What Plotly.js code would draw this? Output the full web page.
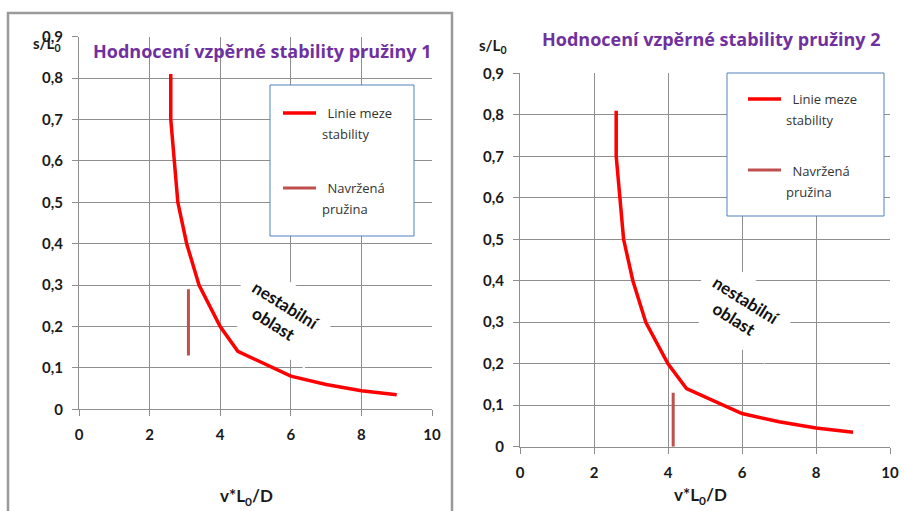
<!DOCTYPE html>
<html>
<head>
<meta charset="utf-8">
<script src="https://cdn.plot.ly/plotly-3.0.1.min.js"></script>
<style>html,body{margin:0;padding:0;background:#fff;}#chart{width:905px;height:511px;}</style>
</head>
<body>
<div id="chart"></div>
<script>
// ---- Data ----
const limitX1 = [2.6, 2.6, 2.8, 3.05, 3.4, 4.0, 4.5, 6.0, 7.0, 8.0, 9.0];
const limitY1 = [0.81, 0.70, 0.50, 0.40, 0.30, 0.20, 0.14, 0.08, 0.06, 0.045, 0.035];
const springX1 = [3.1, 3.1];
const springY1 = [0.29, 0.13];

const limitX2 = [2.6, 2.6, 2.8, 3.05, 3.4, 4.0, 4.5, 6.0, 7.0, 8.0, 9.0];
const limitY2 = [0.81, 0.70, 0.50, 0.40, 0.30, 0.20, 0.14, 0.08, 0.06, 0.045, 0.035];
const springX2 = [4.14, 4.14];
const springY2 = [0.13, 0.0];

const xTickVals = [0, 2, 4, 6, 8, 10];
const xTickText = ['0', '2', '4', '6', '8', '10'];
const yTickVals = [0, 0.1, 0.2, 0.3, 0.4, 0.5, 0.6, 0.7, 0.8, 0.9];
const yTickText = ['0', '0,1', '0,2', '0,3', '0,4', '0,5', '0,6', '0,7', '0,8', '0,9'];

const titles = ['Hodnocení vzpěrné stability pružiny 1', 'Hodnocení vzpěrné stability pružiny 2'];
const legendLine1 = ['\u00A0Linie meze', 'stability'];
const legendLine2 = ['\u00A0Navržená', 'pružina'];
const regionText = 'nestabilní<br>oblast';
const xTitle = 'v*L<sub>0</sub>/D';
const yTitle = 's/L<sub>0</sub>';

// ---- Layout helpers ----
const W = 905, H = 511;
const px = x => x / W;
const py = y => 1 - y / H;
const FONT = 'Lato, "Open Sans", sans-serif';
const OPEN = '"Open Sans", Lato, sans-serif';
const RED = '#FF0000', SPRING = '#C0504D', GRID = '#8E8E8E', PURPLE = '#7030A0';

const traces = [
  {x: limitX1, y: limitY1, xaxis: 'x', yaxis: 'y', mode: 'lines', line: {color: RED, width: 3.5}, showlegend: false},
  {x: springX1, y: springY1, xaxis: 'x', yaxis: 'y', mode: 'lines', line: {color: SPRING, width: 3}, showlegend: false},
  {x: limitX2, y: limitY2, xaxis: 'x2', yaxis: 'y2', mode: 'lines', line: {color: RED, width: 3.5}, showlegend: false},
  {x: springX2, y: springY2, xaxis: 'x2', yaxis: 'y2', mode: 'lines', line: {color: SPRING, width: 3}, showlegend: false}
];

const tickFont = {family: FONT, size: 15, color: '#1a1a1a', weight: 'bold'};
function xAxis(dom, anchor) {
  return {domain: dom, anchor: anchor, range: [0, 10], tickvals: xTickVals, ticktext: xTickText,
    showgrid: true, gridcolor: GRID, gridwidth: 1, zeroline: false,
    showline: true, linecolor: GRID, linewidth: 1, ticks: 'outside', ticklen: 6, tickcolor: GRID,
    ticklabelstandoff: 6, tickfont: tickFont, fixedrange: true};
}
function yAxis(dom, anchor) {
  return {domain: dom, anchor: anchor, range: [0, 0.9], tickvals: yTickVals, ticktext: yTickText,
    showgrid: true, gridcolor: GRID, gridwidth: 1, zeroline: false,
    showline: true, linecolor: GRID, linewidth: 1, ticks: 'outside', ticklen: 6, tickcolor: GRID,
    ticklabelstandoff: 6, tickfont: tickFont, fixedrange: true};
}

const layout = {
  width: W, height: H,
  margin: {l: 0, r: 0, t: 0, b: 0},
  paper_bgcolor: '#fff', plot_bgcolor: '#fff',
  showlegend: false,
  xaxis: xAxis([px(79), px(432)], 'y'),
  yaxis: yAxis([py(409.3), py(36.7)], 'x'),
  xaxis2: xAxis([px(520), px(890)], 'y2'),
  yaxis2: yAxis([py(446.7), py(73.3)], 'x2'),
  shapes: [
    // outer frame of left chart
    {type: 'rect', xref: 'paper', yref: 'paper', x0: px(8), x1: px(452), y0: -0.05, y1: py(13),
     line: {color: '#9A9A9A', width: 2.5}, fillcolor: 'rgba(0,0,0,0)', layer: 'below'},
    // legend boxes
    {type: 'rect', xref: 'paper', yref: 'paper', x0: px(270), x1: px(414), y0: py(236), y1: py(85),
     line: {color: '#4F81BD', width: 1}, fillcolor: '#fff', layer: 'above'},
    {type: 'rect', xref: 'paper', yref: 'paper', x0: px(727), x1: px(884), y0: py(216), y1: py(73),
     line: {color: '#4F81BD', width: 1}, fillcolor: '#fff', layer: 'above'},
    // legend swatches
    {type: 'line', xref: 'paper', yref: 'paper', x0: px(283), x1: px(316), y0: py(113), y1: py(113), line: {color: RED, width: 3.5}},
    {type: 'line', xref: 'paper', yref: 'paper', x0: px(283), x1: px(316), y0: py(188), y1: py(188), line: {color: SPRING, width: 3}},
    {type: 'line', xref: 'paper', yref: 'paper', x0: px(748), x1: px(781), y0: py(99), y1: py(99), line: {color: RED, width: 3.5}},
    {type: 'line', xref: 'paper', yref: 'paper', x0: px(748), x1: px(781), y0: py(170), y1: py(170), line: {color: SPRING, width: 3}}
  ],
  annotations: []
};

function ann(text, x, y, opts) {
  return Object.assign({text: text, xref: 'paper', yref: 'paper', x: px(x), y: py(y), showarrow: false,
    xanchor: 'center', yanchor: 'middle', font: {family: FONT, size: 14, color: '#262626'}}, opts || {});
}
const A = layout.annotations;
const titleFont = {family: OPEN, size: 18, color: PURPLE, weight: 'bold'};
A.push(ann(titles[0], 262, 51, {font: titleFont}));
A.push(ann(titles[1], 711, 39, {font: titleFont}));
// axis titles
A.push(ann(yTitle, 46, 44, {font: {family: FONT, size: 15, color: '#1a1a1a', weight: 'bold'}}));
A.push(ann(yTitle, 492, 46, {font: {family: FONT, size: 15, color: '#1a1a1a', weight: 'bold'}}));
A.push(ann(xTitle, 246, 497, {font: {family: FONT, size: 17, color: '#1a1a1a', weight: 'bold'}}));
A.push(ann(xTitle, 700, 496, {font: {family: FONT, size: 17, color: '#1a1a1a', weight: 'bold'}}));
// legend texts
const lf = {family: OPEN, size: 13, color: '#333'};
A.push(ann(legendLine1[0], 322, 113, {xanchor: 'left', font: lf}));
A.push(ann(legendLine1[1], 320, 134, {xanchor: 'left', font: lf}));
A.push(ann(legendLine2[0], 322, 188, {xanchor: 'left', font: lf}));
A.push(ann(legendLine2[1], 320, 209, {xanchor: 'left', font: lf}));
A.push(ann(legendLine1[0], 787, 99, {xanchor: 'left', font: lf}));
A.push(ann(legendLine1[1], 784, 120, {xanchor: 'left', font: lf}));
A.push(ann(legendLine2[0], 787, 171, {xanchor: 'left', font: lf}));
A.push(ann(legendLine2[1], 784, 192, {xanchor: 'left', font: lf}));
// unstable region labels (data coords)
const regionFont = {family: FONT, size: 17, color: '#111', weight: 'bold'};
A.push({text: regionText, xref: 'x', yref: 'y', x: 5.7, y: 0.23, showarrow: false, textangle: 32,
  bgcolor: '#fff', borderpad: 11, font: regionFont});
A.push({text: regionText, xref: 'x2', yref: 'y2', x: 5.95, y: 0.33, showarrow: false, textangle: 32,
  bgcolor: '#fff', borderpad: 11, font: regionFont});

Plotly.newPlot('chart', traces, layout, {displayModeBar: false, staticPlot: true});
</script>
</body>
</html>
